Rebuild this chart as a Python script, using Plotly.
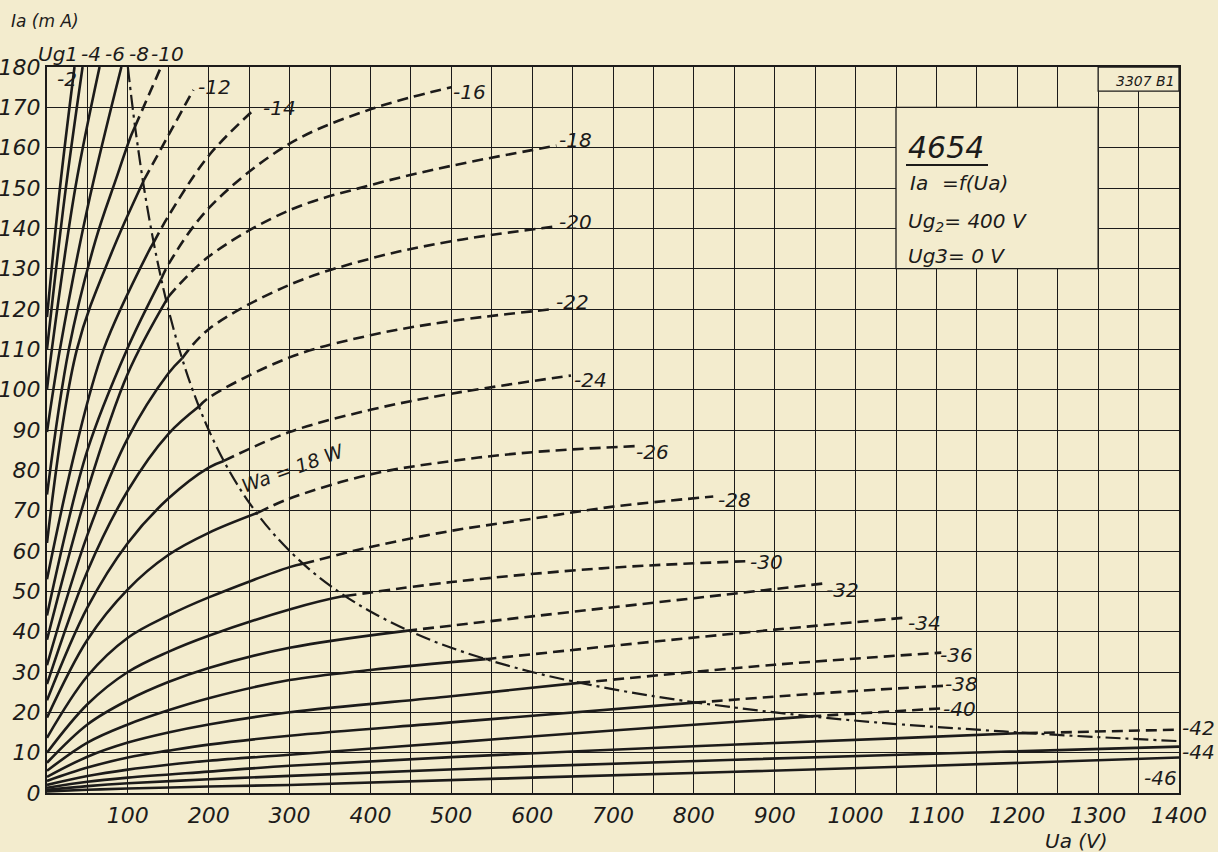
import plotly.graph_objects as go

# ---------------- data ----------------
WA_LIMIT_W = 18.0          # anode dissipation limit drawn as dash-dot curve

X_TICKS = [100, 200, 300, 400, 500, 600, 700, 800, 900, 1000, 1100, 1200, 1300, 1400]
Y_TICKS = [0, 10, 20, 30, 40, 50, 60, 70, 80, 90, 100, 110, 120, 130, 140, 150, 160, 170, 180]

# Ia = f(Ua) for each Ug1 (V) ; Ua in V, Ia in mA
UA_G02 = [0, 16, 34]
IA_G02 = [118, 150, 180]
UA_G04 = [0, 22, 44]
IA_G04 = [110, 148, 180]
UA_G06 = [0, 6, 35, 65]
IA_G06 = [100, 110, 150, 180]
UA_G08 = [0, 16, 50, 92]
IA_G08 = [89.5, 110, 145, 180]
UA_G10 = [0, 27, 60, 85, 104, 141]
IA_G10 = [74, 110, 137, 152, 163, 180]
UA_G12 = [0, 37, 80, 120, 150, 181]
IA_G12 = [62, 110, 134, 152, 163, 174.3]
UA_G14 = [0, 35, 70, 125, 150, 200, 258]
IA_G14 = [53, 85, 110, 134, 143, 158, 169.8]
UA_G16 = [0, 50, 99, 150, 200, 300, 400, 500]
IA_G16 = [44, 85, 110, 131, 145, 161, 169.5, 175]
UA_G18 = [0, 50, 100, 150, 200, 300, 400, 500, 630]
IA_G18 = [38, 75, 104, 123, 133, 144.5, 150.7, 155.5, 160.5]
UA_G20 = [0, 50, 100, 150, 200, 300, 400, 500, 630]
IA_G20 = [31.7, 64, 88, 104, 115, 126, 132.5, 136.8, 140.5]
UA_G22 = [0, 50, 100, 150, 200, 300, 400, 500, 627]
IA_G22 = [27, 55, 75, 89, 98, 108, 113.5, 117, 120]
UA_G24 = [0, 50, 100, 150, 200, 300, 400, 500, 648]
IA_G24 = [23, 46, 62, 73, 80.7, 89.5, 95, 99, 103.5]
UA_G26 = [0, 50, 100, 150, 200, 261, 300, 400, 500, 600, 727]
IA_G26 = [18.7, 38, 50.5, 59, 64.5, 69.5, 73, 79, 82.3, 84.5, 86]
UA_G28 = [0, 50, 100, 150, 200, 300, 400, 500, 600, 700, 824]
IA_G28 = [13.7, 29, 38.5, 44, 48.5, 56, 61, 65, 68, 71, 73.5]
UA_G30 = [0, 50, 100, 150, 200, 300, 364, 500, 686, 867]
IA_G30 = [10, 22, 30, 35, 39, 45.5, 48.7, 52.3, 55.7, 57.5]
UA_G32 = [0, 50, 100, 150, 200, 300, 444, 600, 800, 963]
IA_G32 = [7.5, 17, 23, 27.5, 31, 36, 40.2, 43.8, 48.3, 52]
UA_G34 = [0, 50, 100, 150, 200, 300, 400, 548, 700, 900, 1062]
IA_G34 = [5.5, 12.5, 17, 20.5, 23.5, 28, 30.5, 33.3, 36.5, 40.5, 43.5]
UA_G36 = [0, 50, 100, 150, 200, 300, 500, 658, 900, 1106]
IA_G36 = [4, 9, 12.5, 15, 17, 20, 24, 27.3, 31.8, 34.8]
UA_G38 = [0, 50, 100, 150, 200, 300, 500, 801, 1000, 1112]
IA_G38 = [3, 6.3, 8.8, 10.5, 12, 14.2, 17.5, 22.4, 25.3, 26.6]
UA_G40 = [0, 50, 100, 150, 200, 300, 500, 700, 944, 1108]
IA_G40 = [2, 4.2, 5.8, 7, 8, 9.5, 12.5, 15.5, 19, 21]
UA_G42 = [0, 50, 100, 200, 300, 500, 800, 1055, 1200, 1400]
IA_G42 = [1.3, 2.8, 3.8, 5.3, 6.75, 8.9, 11.6, 13.6, 14.8, 15.7]
UA_G44 = [0, 50, 100, 200, 300, 600, 1055, 1400]
IA_G44 = [0.8, 1.7, 2.4, 3.4, 4.25, 6.6, 9.5, 11.5]
UA_G46 = [0, 50, 100, 200, 300, 600, 1055, 1400]
IA_G46 = [0.4, 0.8, 1.1, 1.6, 2.0, 3.8, 6.5, 8.8]

# Wa = 18 W limit curve
UA_WA = [100, 105, 110, 120, 130, 140, 150, 165, 180, 200, 225, 250, 280, 320, 360,
         400, 450, 500, 575, 650, 750, 850, 950, 1050, 1150, 1250, 1400]
IA_WA = [180, 171.4, 163.6, 150, 138.5, 128.6, 120, 109.1, 100, 90, 80, 72, 64.3, 56.25, 50,
         45, 40, 36, 31.3, 27.7, 24, 21.2, 18.9, 17.1, 15.7, 14.4, 12.86]

CURVES = [
    (-2, UA_G02, IA_G02), (-4, UA_G04, IA_G04), (-6, UA_G06, IA_G06),
    (-8, UA_G08, IA_G08), (-10, UA_G10, IA_G10), (-12, UA_G12, IA_G12),
    (-14, UA_G14, IA_G14), (-16, UA_G16, IA_G16), (-18, UA_G18, IA_G18),
    (-20, UA_G20, IA_G20), (-22, UA_G22, IA_G22), (-24, UA_G24, IA_G24),
    (-26, UA_G26, IA_G26), (-28, UA_G28, IA_G28), (-30, UA_G30, IA_G30),
    (-32, UA_G32, IA_G32), (-34, UA_G34, IA_G34), (-36, UA_G36, IA_G36),
    (-38, UA_G38, IA_G38), (-40, UA_G40, IA_G40), (-42, UA_G42, IA_G42),
    (-44, UA_G44, IA_G44), (-46, UA_G46, IA_G46),
]

# ---------------- styling / layout ----------------
W, H = 1218, 852
L, R, T, B = 47, 39, 67, 59
PW, PH = W - L - R, H - T - B
INK = "#1c1b1a"
PAPER = "#f3ecce"
FONT = "DejaVu Sans"


def split_at_limit(ua, ia, pmax):
    p_lim = pmax * 1000.0
    for i in range(1, len(ua)):
        p0, p1 = ua[i - 1] * ia[i - 1], ua[i] * ia[i]
        if p0 <= p_lim < p1:
            lo, hi = 0.0, 1.0
            for _ in range(40):
                m = (lo + hi) / 2
                u = ua[i - 1] + m * (ua[i] - ua[i - 1])
                a = ia[i - 1] + m * (ia[i] - ia[i - 1])
                if u * a < p_lim:
                    lo = m
                else:
                    hi = m
            u = ua[i - 1] + lo * (ua[i] - ua[i - 1])
            a = ia[i - 1] + lo * (ia[i] - ia[i - 1])
            if abs(u - ua[i - 1]) < 3:
                s = (ua[:i], ia[:i])
                d = (ua[i - 1:], ia[i - 1:])
            elif abs(u - ua[i]) < 3:
                s = (ua[:i + 1], ia[:i + 1])
                d = (ua[i:], ia[i:])
            else:
                s = (ua[:i] + [u], ia[:i] + [a])
                d = ([u] + ua[i:], [a] + ia[i:])
            return s, d
    return (ua, ia), None


fig = go.Figure()

for ug, ua, ia in CURVES:
    solid, dashed = split_at_limit(ua, ia, WA_LIMIT_W)
    fig.add_trace(go.Scatter(x=solid[0], y=solid[1], mode="lines",
                             line=dict(color=INK, width=2.6, shape="spline", smoothing=1.0),
                             hoverinfo="skip", showlegend=False))
    if dashed is not None:
        fig.add_trace(go.Scatter(x=dashed[0], y=dashed[1], mode="lines",
                                 line=dict(color=INK, width=2.6, shape="spline", smoothing=1.0,
                                           dash="11px,6px"),
                                 hoverinfo="skip", showlegend=False))

fig.add_trace(go.Scatter(x=UA_WA, y=IA_WA, mode="lines",
                         line=dict(color=INK, width=2.2, shape="spline", smoothing=1.0,
                                   dash="15px,5px,3px,5px"),
                         hoverinfo="skip", showlegend=False))

grid = dict(showgrid=True, gridcolor=INK, gridwidth=1.3)
fig.update_xaxes(range=[0, 1400], tickvals=X_TICKS, ticktext=[str(v) for v in X_TICKS],
                 ticks="", ticklabelstandoff=2, automargin=False,
                 tickfont=dict(family=FONT, size=22, color=INK, style="italic"),
                 minor=dict(dtick=50, tick0=0, showgrid=True, gridcolor=INK, gridwidth=1.3),
                 showline=True, linecolor=INK, linewidth=2, mirror=True, zeroline=False, **grid)
fig.update_yaxes(range=[0, 180], tickvals=Y_TICKS, ticktext=[str(v) for v in Y_TICKS],
                 ticks="", ticklabelstandoff=0, automargin=False,
                 tickfont=dict(family=FONT, size=22, color=INK, style="italic"),
                 showline=True, linecolor=INK, linewidth=2, mirror=True, zeroline=False, **grid)


def pxp(xp, yp):
    """reference pixel position -> paper fraction (for text placement)"""
    return (xp - L) / PW, (H - B - yp) / PH


shapes = []
shapes.append(dict(type="rect", xref="x", yref="y", x0=1050, x1=1300, y0=130, y1=170,
                   fillcolor=PAPER, line=dict(color=INK, width=1.3), layer="above"))
shapes.append(dict(type="rect", xref="x", yref="y", x0=1300, x1=1400, y0=174, y1=180,
                   fillcolor=PAPER, line=dict(color=INK, width=1.3), layer="above"))
ux0, uy0 = pxp(906, 165)
ux1, _ = pxp(988, 165)
shapes.append(dict(type="line", xref="paper", yref="paper", x0=ux0, x1=ux1, y0=uy0, y1=uy0,
                   line=dict(color=INK, width=2.2), layer="above"))

ann = []


def text(t, xp, yp, size=21, anchor="left", angle=0):
    x, y = pxp(xp, yp)
    ann.append(dict(text=t, x=x, y=y, xref="paper", yref="paper", showarrow=False,
                    xanchor=anchor, yanchor="middle", textangle=angle,
                    font=dict(family=FONT, size=size, color=INK, style="italic")))


text("Ia (m A)", 9, 21, size=17)
text("Ua (V)", 1043, 841, size=20)
text("Ug1", 36, 54, size=20)

text("-4", 79, 54, size=20)
text("-6", 103, 54, size=20)
text("-8", 127, 54, size=20)
text("-10", 149, 54, size=20)
text("-2", 55, 79, size=20)

for t, xp, yp in [("-12", 196, 87), ("-14", 261, 108), ("-16", 451, 92), ("-18", 557, 140),
                  ("-20", 557, 222), ("-22", 554, 302), ("-24", 572, 380), ("-26", 634, 452),
                  ("-28", 716, 500), ("-30", 748, 562), ("-32", 824, 590), ("-34", 906, 623),
                  ("-36", 938, 655), ("-38", 943, 684), ("-40", 941, 709), ("-42", 1180, 728),
                  ("-44", 1180, 752), ("-46", 1142, 778)]:
    text(t, xp, yp, size=20)

text("4654", 906, 147, size=30)
text("Ia", 908, 183, size=20)
text("=f(Ua)", 940, 183, size=20)
text("Ug<sub>2</sub>= 400 V", 906, 222, size=20)
text("Ug3= 0 V", 906, 256, size=20)
text("3307 B1", 1114, 81, size=14)

text("Wa = 18 W", 293, 468, size=19, anchor="center", angle=-20)

fig.update_layout(width=W, height=H, margin=dict(l=L, r=R, t=T, b=B, autoexpand=False),
                  paper_bgcolor=PAPER, plot_bgcolor=PAPER, shapes=shapes, annotations=ann,
                  showlegend=False)

fig.write_html("out.html", config={"displayModeBar": False},
               post_script="document.body.style.margin='0';"
                           "document.body.style.background='" + PAPER + "';"
                           "document.body.style.overflow='hidden';")
